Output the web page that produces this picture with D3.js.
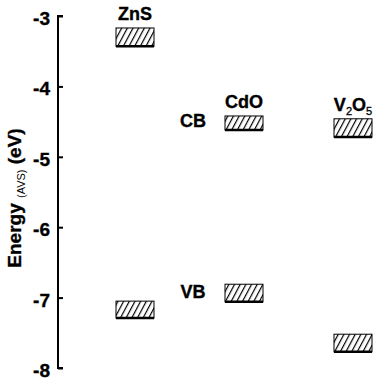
<!DOCTYPE html>
<html>
<head>
<meta charset="utf-8">
<script src="https://cdn.jsdelivr.net/npm/d3@7"></script>
<style>
  body { margin: 0; background: #fff; }
  text { font-family: "Liberation Sans", Arial, sans-serif; font-weight: bold; stroke: #000; stroke-width: 0.35px; }
</style>
</head>
<body>
<svg id="chart" width="387" height="384"></svg>
<script>
// band edges (eV vs vacuum)
var materials = ["ZnS", "CdO", "V2O5"];
var cbTop = [-3.17, -4.42, -4.46];
var cbBottom = [-3.43, -4.62, -4.72];
var vbTop = [-7.05, -6.81, -7.52];
var vbBottom = [-7.29, -7.06, -7.77];
var yTicks = [-3, -4, -5, -6, -7, -8];

var svg = d3.select("#chart");

var y = d3.scaleLinear().domain([-3, -8]).range([16, 368]);
var x = d3.scalePoint().domain(materials).range([135, 353]);
var boxW = 38;

// hatch pattern
var defs = svg.append("defs");
var pat = defs.append("pattern")
    .attr("id", "hatch")
    .attr("patternUnits", "userSpaceOnUse")
    .attr("width", 5).attr("height", 5)
    .attr("patternTransform", "rotate(28)");
pat.append("rect").attr("width", 5).attr("height", 5).attr("fill", "#fff");
pat.append("line")
    .attr("x1", 0).attr("y1", 0).attr("x2", 0).attr("y2", 5)
    .attr("stroke", "#000").attr("stroke-width", 2.4);

// axis
var axis = d3.axisRight(y).tickValues(yTicks).tickSize(5).tickFormat(d3.format("d"));
var gAxis = svg.append("g").attr("transform", "translate(58,0)").call(axis);
gAxis.select(".domain").attr("stroke-width", 2).attr("d", "M5,16H0V368H5");
gAxis.selectAll(".tick line").attr("stroke-width", 2);
gAxis.selectAll(".tick text")
    .attr("x", -8).attr("dy", "0.45em")
    .attr("text-anchor", "end")
    .attr("fill", "#000")
    .style("font-size", "19px")
    .text(function (d) { return "-" + Math.abs(d); });

// y label
var lab = svg.append("text")
    .attr("transform", "translate(21,198) rotate(-90)")
    .attr("text-anchor", "middle")
    .style("font-size", "19px");
lab.append("tspan").text("Energy ");
lab.append("tspan").style("font-size", "11px").style("font-weight", "normal").style("stroke-width", 0).attr("dy", 4).text("(AVS)");
lab.append("tspan").attr("dy", -4).text(" (eV)");

// bands
function drawBands(tops, bottoms) {
    var g = svg.append("g").selectAll("g").data(materials).join("g");
    g.append("rect")
        .attr("x", function (d) { return x(d) - boxW / 2; })
        .attr("y", function (d, i) { return y(tops[i]); })
        .attr("width", boxW)
        .attr("height", function (d, i) { return y(bottoms[i]) - y(tops[i]); })
        .attr("fill", "url(#hatch)")
        .attr("stroke", "#000")
        .attr("stroke-width", 1);
    g.append("line")
        .attr("x1", function (d) { return x(d) - boxW / 2; })
        .attr("x2", function (d) { return x(d) + boxW / 2; })
        .attr("y1", function (d, i) { return y(bottoms[i]); })
        .attr("y2", function (d, i) { return y(bottoms[i]); })
        .attr("stroke", "#000").attr("stroke-width", 2.5);
}
drawBands(cbTop, cbBottom);
drawBands(vbTop, vbBottom);

// material names
var names = svg.append("g").selectAll("text").data(materials).join("text")
    .attr("x", function (d) { return x(d); })
    .attr("y", function (d, i) { return y(cbTop[i]) - 8; })
    .attr("text-anchor", "middle")
    .style("font-size", "18px");
names.each(function (d) {
    var t = d3.select(this);
    if (d === "V2O5") {
        t.append("tspan").text("V");
        t.append("tspan").attr("dy", 4).style("font-size", "11px").style("font-weight", "normal").text("2");
        t.append("tspan").attr("dy", -4).text("O");
        t.append("tspan").attr("dy", 4).style("font-size", "11px").style("font-weight", "normal").text("5");
    } else {
        t.text(d);
    }
});

// CB / VB labels
svg.append("text").attr("x", 193).attr("y", y(cbBottom[1])).attr("dy", -3)
    .attr("text-anchor", "middle").style("font-size", "18px").text("CB");
svg.append("text").attr("x", 193).attr("y", y(vbTop[1])).attr("dy", 14)
    .attr("text-anchor", "middle").style("font-size", "18px").text("VB");
</script>
</body>
</html>
